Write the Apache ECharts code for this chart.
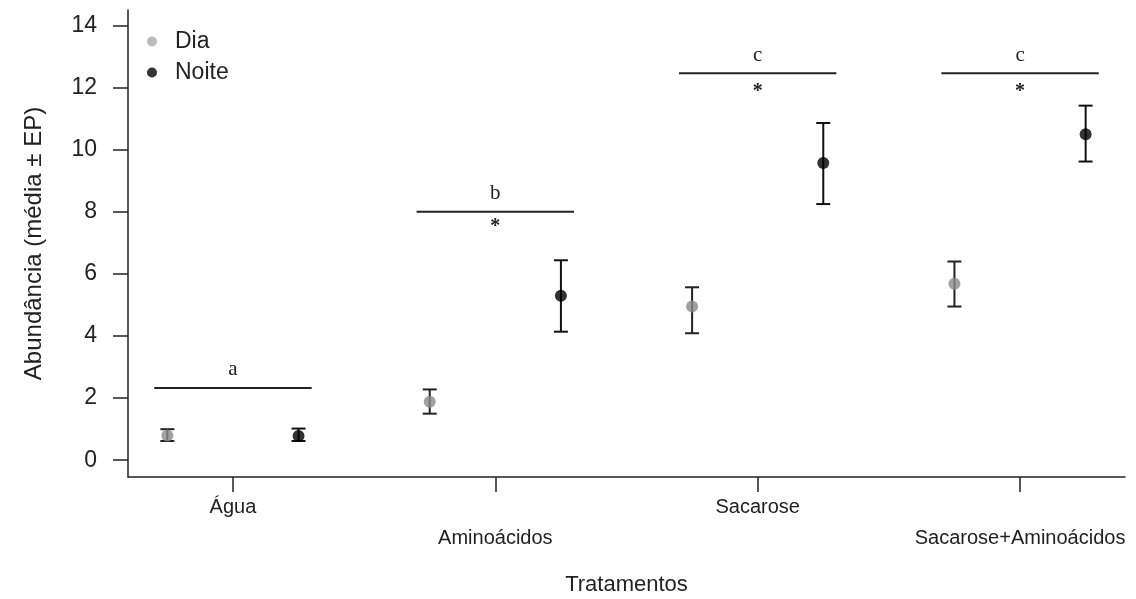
<!DOCTYPE html>
<html>
<head>
<meta charset="utf-8">
<script src="https://cdn.jsdelivr.net/npm/echarts@6/dist/echarts.min.js"></script>
<style>
  html, body { margin: 0; padding: 0; background: #fff; }
  #AbundanciaChart { width: 1136px; height: 599px; }
</style>
</head>
<body>
<div id="AbundanciaChart"></div>
<script>
// dados
var categories = ['Água', 'Aminoácidos', 'Sacarose', 'Sacarose+Aminoácidos'];
var diaMean = [0.8, 1.88, 4.95, 5.68];
var diaLow = [0.62, 1.5, 4.09, 4.95];
var diaHigh = [1.0, 2.28, 5.57, 6.4];
var noiteMean = [0.78, 5.3, 9.57, 10.5];
var noiteLow = [0.62, 4.14, 8.25, 9.62];
var noiteHigh = [1.02, 6.44, 10.86, 11.42];
var groupLetters = ['a', 'b', 'c', 'c'];
var bracketY = [2.33, 8.0, 12.46, 12.46];
var asteriskY = [null, 7.65, 12.0, 12.0];
var yTicks = [0, 2, 4, 6, 8, 10, 12, 14];
var xTicks = [1, 2, 3, 4];

var DIA_OFFSET = -0.25;
var NOITE_OFFSET = 0.25;

function pointData(mean, offset) {
    return mean.map(function (v, i) { return [i + 1 + offset, v]; });
}

function barData(low, high, offset) {
    return low.map(function (v, i) { return [i + 1 + offset, v, high[i]]; });
}

// barras de erro (média ± EP)
function renderErrorBar(color) {
    return function (params, api) {
        var x = api.value(0);
        var bottom = api.coord([x, api.value(1)]);
        var top = api.coord([x, api.value(2)]);
        var cap = 7;
        var style = { stroke: color, lineWidth: 2 };
        return {
            type: 'group',
            children: [
                { type: 'line', shape: { x1: top[0], y1: top[1], x2: bottom[0], y2: bottom[1] }, style: style },
                { type: 'line', shape: { x1: top[0] - cap, y1: top[1], x2: top[0] + cap, y2: top[1] }, style: style },
                { type: 'line', shape: { x1: bottom[0] - cap, y1: bottom[1], x2: bottom[0] + cap, y2: bottom[1] }, style: style }
            ]
        };
    };
}

// linha com letra e asterisco sobre cada tratamento
function renderBracket(params, api) {
    var x = api.value(0);
    var left = api.coord([x - 0.3, api.value(1)]);
    var right = api.coord([x + 0.3, api.value(1)]);
    var children = [
        { type: 'line', shape: { x1: left[0], y1: left[1], x2: right[0], y2: right[1] }, style: { stroke: '#222', lineWidth: 2 } },
        {
            type: 'text',
            style: {
                text: groupLetters[params.dataIndex],
                x: (left[0] + right[0]) / 2, y: left[1] - 18,
                align: 'center', verticalAlign: 'middle',
                font: '21px "Liberation Serif"', fill: '#222'
            }
        }
    ];
    var ay = asteriskY[params.dataIndex];
    if (ay != null) {
        var p = api.coord([x, ay]);
        children.push({
            type: 'text',
            style: {
                text: '*',
                x: p[0], y: p[1] + 4,
                align: 'center', verticalAlign: 'middle',
                font: 'bold 20px "Liberation Serif"', fill: '#222'
            }
        });
    }
    return { type: 'group', children: children };
}

var myChart = echarts.init(document.getElementById('AbundanciaChart'));
myChart.setOption({
    animation: false,
    backgroundColor: '#ffffff',
    textStyle: { fontFamily: '"Liberation Sans", Arial, sans-serif', color: '#222' },
    legend: {
        orient: 'vertical',
        left: 142,
        top: 25,
        itemWidth: 36,
        itemHeight: 10,
        itemGap: 8,
        icon: 'circle',
        textStyle: { fontSize: 23, color: '#222' },
        data: [
            { name: 'Dia', itemStyle: { color: '#aaaaaa' } },
            { name: 'Noite', itemStyle: { color: '#000000' } }
        ]
    },
    grid: { left: 128, right: 11, top: 10, bottom: 122, outerBoundsMode: 'none' },
    xAxis: {
        type: 'value',
        min: 0.6,
        max: 4.4,
        name: 'Tratamentos',
        nameLocation: 'middle',
        nameGap: 97,
        nameTextStyle: { fontSize: 22, color: '#222' },
        splitLine: { show: false },
        axisLine: { show: true, onZero: false, lineStyle: { color: '#222', width: 1.5 } },
        axisTick: { show: true, length: 15, customValues: xTicks, lineStyle: { color: '#222', width: 1.5 } },
        axisLabel: {
            customValues: xTicks,
            margin: 15,
            fontSize: 20,
            color: '#222',
            lineHeight: 31,
            formatter: function (v) {
                var i = Math.round(v) - 1;
                return i % 2 === 1 ? '\n' + categories[i] : categories[i];
            }
        }
    },
    yAxis: {
        type: 'value',
        min: -0.54,
        max: 14.5,
        name: 'Abundância (média ± EP)',
        nameLocation: 'middle',
        nameRotate: 90,
        nameGap: 82,
        nameTextStyle: { fontSize: 24, color: '#222' },
        splitLine: { show: false },
        axisLine: { show: true, onZero: false, lineStyle: { color: '#222', width: 1.5 } },
        axisTick: { show: true, length: 15, customValues: yTicks, lineStyle: { color: '#222', width: 1.5 } },
        axisLabel: { customValues: yTicks, margin: 31, fontSize: 23, color: '#222' }
    },
    series: [
        {
            name: 'DiaEP',
            type: 'custom',
            renderItem: renderErrorBar('#222'),
            encode: { x: 0, y: [1, 2] },
            data: barData(diaLow, diaHigh, DIA_OFFSET),
            z: 2
        },
        {
            name: 'NoiteEP',
            type: 'custom',
            renderItem: renderErrorBar('#111'),
            encode: { x: 0, y: [1, 2] },
            data: barData(noiteLow, noiteHigh, NOITE_OFFSET),
            z: 2
        },
        {
            name: 'Dia',
            type: 'scatter',
            symbolSize: 12,
            itemStyle: { color: '#8a8a8a' },
            data: pointData(diaMean, DIA_OFFSET),
            z: 3
        },
        {
            name: 'Noite',
            type: 'scatter',
            symbolSize: 12,
            itemStyle: { color: '#000000' },
            data: pointData(noiteMean, NOITE_OFFSET),
            z: 3
        },
        {
            name: 'Grupos',
            type: 'custom',
            renderItem: renderBracket,
            encode: { x: 0, y: 1 },
            data: bracketY.map(function (v, i) { return [i + 1, v]; }),
            z: 2
        }
    ]
});
</script>
</body>
</html>
